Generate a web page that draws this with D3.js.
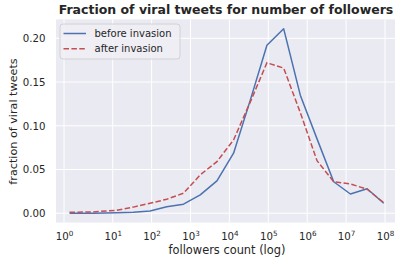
<!DOCTYPE html>
<html>
<head>
<meta charset="utf-8">
<script src="https://cdn.jsdelivr.net/npm/d3@7"></script>
<style>
  body { margin: 0; background: #fff; }
  text { font-family: "DejaVu Sans", sans-serif; fill: #262626; }
</style>
</head>
<body>
<svg width="395" height="263"></svg>
<script>
// followers count (x)
var followers = [1.3, 4, 12.7, 34, 91, 245, 660, 1780, 4780, 12800, 34300, 92200,
                 248000, 665000, 1790000, 4800000, 12900000, 34700000, 93000000];
var beforeInvasion = [0.000, 0.000, 0.0005, 0.001, 0.0026, 0.0075, 0.0103, 0.021, 0.037, 0.0686,
                      0.129, 0.192, 0.211, 0.135, 0.085, 0.036, 0.022, 0.028, 0.0114];
var afterInvasion = [0.001, 0.0015, 0.0034, 0.007, 0.0114, 0.016, 0.0229, 0.0438, 0.059, 0.0838,
                     0.127, 0.172, 0.166, 0.115, 0.06, 0.036, 0.0335, 0.0274, 0.012];
var xTicks = [1, 10, 100, 1000, 1e4, 1e5, 1e6, 1e7, 1e8];
var yTicks = [0, 0.05, 0.10, 0.15, 0.20];
var seriesNames = ["before invasion", "after invasion"];

var svg = d3.select("svg");
var plotLeft = 56, plotRight = 399, plotTop = 19.4, plotBottom = 222.5;

// axis is stretched between 10^0 and 10^1, equal decades after that
var xScale = d3.scaleLog()
  .domain([1, 10, 1e8])
  .range([64, 112.7, 385]);
var yScale = d3.scaleLinear()
  .domain([-0.0106, 0.2216])
  .range([plotBottom, plotTop]);

svg.append("rect")
  .attr("x", plotLeft).attr("y", plotTop)
  .attr("width", plotRight - plotLeft).attr("height", plotBottom - plotTop)
  .attr("fill", "#eaeaf2");

// grid
svg.append("g")
  .selectAll("line")
  .data(xTicks)
  .enter()
  .append("line")
  .attr("x1", function(d) { return xScale(d); })
  .attr("x2", function(d) { return xScale(d); })
  .attr("y1", plotTop).attr("y2", plotBottom)
  .attr("stroke", "#fff").attr("stroke-width", 1);

svg.append("g")
  .selectAll("line")
  .data(yTicks)
  .enter()
  .append("line")
  .attr("y1", function(d) { return yScale(d); })
  .attr("y2", function(d) { return yScale(d); })
  .attr("x1", plotLeft).attr("x2", plotRight)
  .attr("stroke", "#fff").attr("stroke-width", 1);

// y axis labels
var yAxis = svg.append("g")
  .attr("transform", "translate(" + (plotLeft - 10.5) + ",0)")
  .call(d3.axisLeft(yScale).tickValues(yTicks).tickSize(0).tickPadding(0)
        .tickFormat(d3.format(".2f")));
yAxis.select(".domain").remove();
yAxis.selectAll("text")
  .attr("font-size", "10.2px")
  .attr("font-family", "DejaVu Sans")
  .attr("fill", "#262626");

// x axis labels with exponents
var xAxis = svg.append("g")
  .attr("transform", "translate(0," + plotBottom + ")")
  .call(d3.axisBottom(xScale).tickValues(xTicks).tickSize(0).tickFormat(""));
xAxis.select(".domain").remove();
xAxis.selectAll(".tick text").remove();
xAxis.selectAll(".tick")
  .append("text")
  .attr("y", 17.5)
  .attr("x", 0)
  .attr("text-anchor", "middle")
  .attr("font-size", "10.2px")
  .attr("fill", "#262626")
  .each(function(d) {
    var t = d3.select(this);
    t.append("tspan").text("10");
    t.append("tspan")
      .attr("font-size", "7.2px")
      .attr("dy", "-4.5")
      .text(Math.round(Math.log10(d)));
  });

// lines
var line = function(values) {
  return d3.line()
    .x(function(d, i) { return xScale(followers[i]); })
    .y(function(d) { return yScale(d); })(values);
};

svg.append("path")
  .attr("d", line(beforeInvasion))
  .attr("fill", "none")
  .attr("stroke", "#4c72b0")
  .attr("stroke-width", 1.5)
  .attr("stroke-linejoin", "round");

svg.append("path")
  .attr("d", line(afterInvasion))
  .attr("fill", "none")
  .attr("stroke", "#c44e52")
  .attr("stroke-width", 1.5)
  .attr("stroke-dasharray", "5.5,2.4");

// legend
var legend = svg.append("g");
legend.append("rect")
  .attr("x", 60).attr("y", 24)
  .attr("width", 120).attr("height", 35)
  .attr("rx", 3)
  .attr("fill", "#eeeef4").attr("fill-opacity", 0.85)
  .attr("stroke", "#cccccc").attr("stroke-width", 0.8);

var colors = ["#4c72b0", "#c44e52"];
var dashes = [null, "5.5,2.4"];
legend.selectAll(".entry")
  .data(seriesNames)
  .enter()
  .append("g")
  .attr("class", "entry")
  .attr("transform", function(d, i) { return "translate(0," + (33.5 + i * 15.3) + ")"; })
  .each(function(d, i) {
    var g = d3.select(this);
    g.append("line")
      .attr("x1", 63.5).attr("x2", 86)
      .attr("stroke", colors[i]).attr("stroke-width", 1.5)
      .attr("stroke-dasharray", dashes[i]);
    g.append("text")
      .attr("x", 94.5).attr("y", 3.6)
      .attr("font-size", "10px")
      .text(d);
  });

// title and axis labels
svg.append("text")
  .attr("x", 226).attr("y", 14)
  .attr("text-anchor", "middle")
  .attr("font-size", "12.5px")
  .attr("font-weight", "bold")
  .text("Fraction of viral tweets for number of followers");

svg.append("text")
  .attr("x", 227).attr("y", 253.5)
  .attr("text-anchor", "middle")
  .attr("font-size", "11.4px")
  .text("followers count (log)");

svg.append("text")
  .attr("transform", "translate(16.5,121.5) rotate(-90)")
  .attr("text-anchor", "middle")
  .attr("font-size", "11.2px")
  .text("fraction of viral tweets");
</script>
</body>
</html>
